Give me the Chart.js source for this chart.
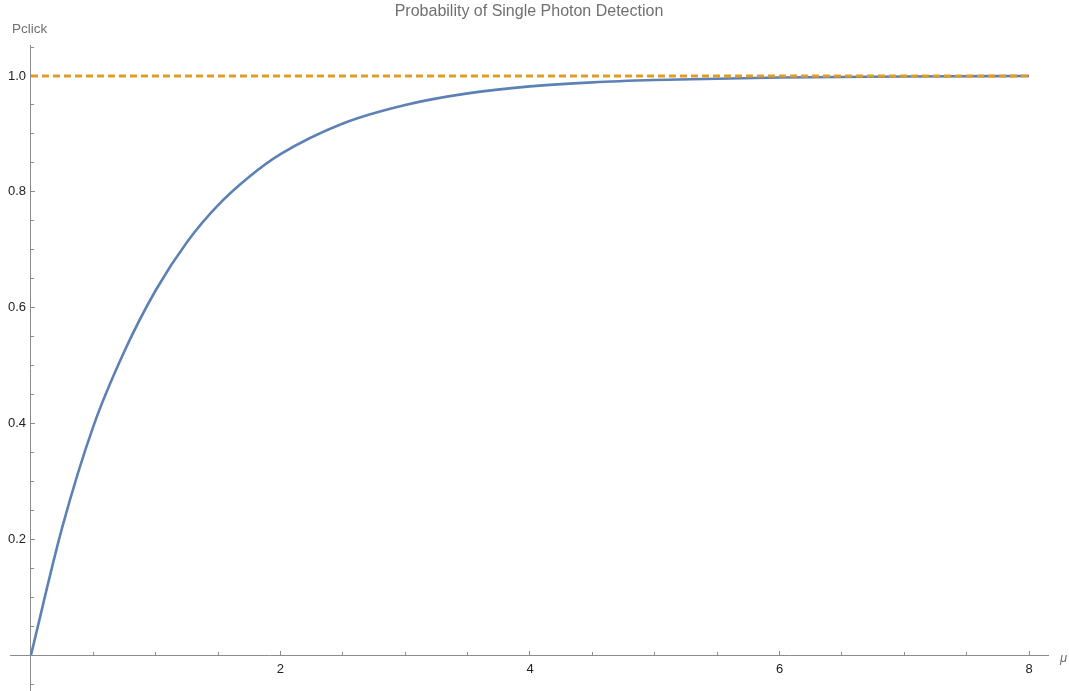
<!DOCTYPE html>
<html>
<head>
<meta charset="utf-8">
<script src="https://cdn.jsdelivr.net/npm/chart.js@4/dist/chart.umd.min.js"></script>
<style>
  html, body { margin: 0; padding: 0; background: #fff; }
  #wrap { width: 1069px; height: 691px; }
</style>
</head>
<body>
<div id="wrap"><canvas id="c" width="1069" height="691"></canvas></div>
<script>
// ---- data ----
const TITLE = "Probability of Single Photon Detection";
const Y_LABEL = "Pclick";
const X_LABEL = "\u03BC";
const muValues = [0, 0.25, 0.5, 0.75, 1, 1.25, 1.5, 1.75, 2, 2.5, 3, 3.5, 4, 4.5, 5, 6, 7, 8];
const pclickValues = [0, 0.22, 0.395, 0.525, 0.63, 0.713, 0.777, 0.826, 0.865, 0.918, 0.95, 0.97, 0.982, 0.989, 0.993, 0.9975, 0.999, 1.0];
const limitMu = [0, 8];
const limitValues = [1.0, 1.0];
const xMajorTicks = [2, 4, 6, 8];
const yMajorTicks = [0.2, 0.4, 0.6, 0.8, 1.0];

const curvePoints = muValues.map((m, i) => ({ x: m, y: pclickValues[i] }));
const limitPoints = limitMu.map((m, i) => ({ x: m, y: limitValues[i] }));

const AXIS_COLOR = '#8c8c8c';
const LABEL_COLOR = '#222';
const FONT = 'Liberation Sans, Arial, sans-serif';

function near(v, list) { return list.some(t => Math.abs(v - t) < 1e-6); }
function zeroPad(scale) { scale.paddingTop = 0; scale.paddingBottom = 0; scale.paddingLeft = 0; scale.paddingRight = 0; }

const X_MIN = -0.168, X_MAX = 8.152;
const Y_MIN = -0.062, Y_MAX = 1.0535;
const Y_LABEL_POS = -0.04; // y tick labels sit just left of the axis

const axisLabels = {
  id: 'axisLabels',
  afterDraw(chart) {
    const ctx = chart.ctx;
    const xs = chart.scales.x, ys = chart.scales.y;
    ctx.save();
    ctx.fillStyle = '#707070';
    ctx.font = '13.5px ' + FONT;
    ctx.textAlign = 'left';
    ctx.textBaseline = 'middle';
    ctx.fillText(Y_LABEL, xs.getPixelForValue(0) - 19, ys.getPixelForValue(Y_MAX) - 16);
    ctx.font = 'italic 13px ' + FONT;
    ctx.fillText(X_LABEL, xs.right + 12, ys.getPixelForValue(0) + 3);
    ctx.restore();
  }
};

new Chart(document.getElementById('c'), {
  type: 'line',
  data: {
    datasets: [
      {
        label: 'limit',
        data: limitPoints,
        xAxisID: 'x', yAxisID: 'y',
        borderColor: '#E19C24',
        borderWidth: 2.8,
        borderDash: [7, 4],
        pointRadius: 0,
        fill: false
      },
      {
        label: 'Pclick',
        data: curvePoints,
        xAxisID: 'x', yAxisID: 'y',
        borderColor: '#5E81B5',
        borderWidth: 2.6,
        pointRadius: 0,
        cubicInterpolationMode: 'monotone',
        fill: false
      }
    ]
  },
  options: {
    responsive: false,
    animation: false,
    events: [],
    layout: { padding: { left: 10, right: 21, top: 0, bottom: 0 } },
    plugins: {
      legend: { display: false },
      tooltip: { enabled: false },
      title: {
        display: true,
        text: TITLE,
        fullSize: false,
        color: '#707070',
        font: { family: FONT, size: 16, weight: 'normal' },
        padding: { top: 1.5, bottom: 24.3 }
      }
    },
    scales: {
      x: {
        type: 'linear', axis: 'x',
        position: { y: 0 },
        min: X_MIN, max: X_MAX,
        afterFit: zeroPad,
        border: { display: true, color: AXIS_COLOR, width: 1 },
        grid: { display: true, drawOnChartArea: false, drawTicks: true, tickLength: -5, color: AXIS_COLOR, lineWidth: 1 },
        ticks: {
          stepSize: 2, includeBounds: false, autoSkip: false, maxRotation: 0,
          padding: 12, color: LABEL_COLOR,
          font: { family: FONT, size: 13 },
          callback: (v) => near(v, xMajorTicks) ? String(Math.round(v)) : ''
        }
      },
      x2: {
        type: 'linear', axis: 'x',
        position: { y: 0 },
        min: X_MIN, max: X_MAX,
        afterFit: zeroPad,
        border: { display: false },
        grid: { display: true, drawOnChartArea: false, drawTicks: true, tickLength: -3, color: AXIS_COLOR, lineWidth: 1 },
        ticks: { display: false, stepSize: 0.5, includeBounds: false, autoSkip: false }
      },
      y: {
        type: 'linear', axis: 'y',
        position: { x: 0 },
        min: Y_MIN, max: Y_MAX,
        afterFit: zeroPad,
        border: { display: true, color: AXIS_COLOR, width: 1 },
        grid: { display: true, drawOnChartArea: false, drawTicks: true, tickLength: -5, color: AXIS_COLOR, lineWidth: 1 },
        ticks: { display: false, stepSize: 0.2, includeBounds: false, autoSkip: false }
      },
      yLabels: {
        type: 'linear', axis: 'y',
        position: { x: Y_LABEL_POS },
        min: Y_MIN, max: Y_MAX,
        afterFit: zeroPad,
        border: { display: false },
        grid: { display: false },
        ticks: {
          stepSize: 0.2, includeBounds: false, autoSkip: false,
          padding: 0, color: LABEL_COLOR,
          font: { family: FONT, size: 13 },
          callback: (v) => near(v, yMajorTicks) ? v.toFixed(1) : ''
        }
      },
      y2: {
        type: 'linear', axis: 'y',
        position: { x: 0 },
        min: Y_MIN, max: Y_MAX,
        afterFit: zeroPad,
        border: { display: false },
        grid: { display: true, drawOnChartArea: false, drawTicks: true, tickLength: -3, color: AXIS_COLOR, lineWidth: 1 },
        ticks: { display: false, stepSize: 0.05, includeBounds: false, autoSkip: false }
      }
    }
  },
  plugins: [axisLabels]
});
</script>
</body>
</html>
